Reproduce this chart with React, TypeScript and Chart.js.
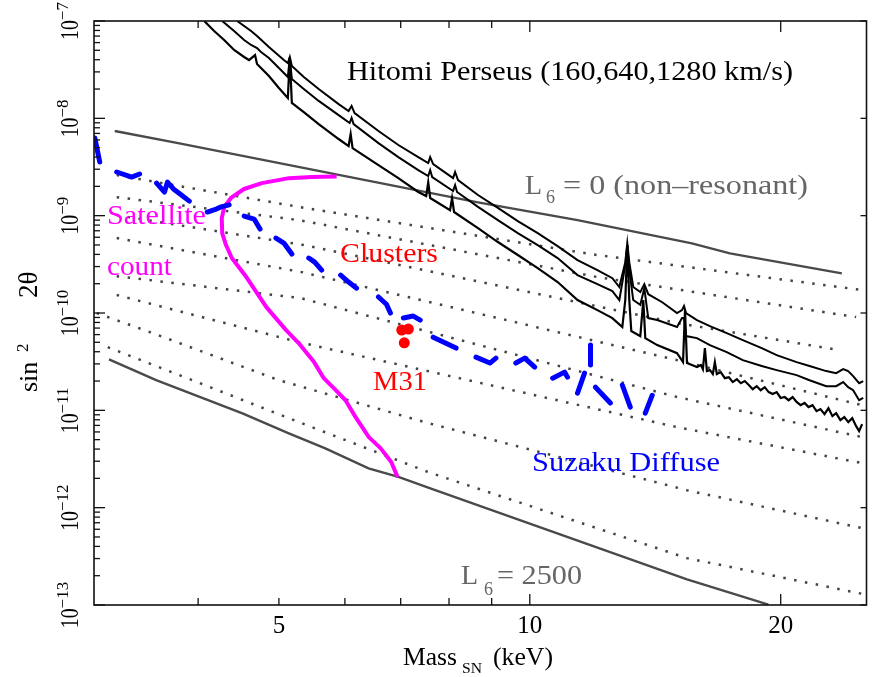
import React, { useEffect, useRef } from 'react';
import { Chart, registerables } from 'chart.js';

Chart.register(...registerables);

const FONT = '"Liberation Serif", "Times New Roman", serif';

const X_MIN = 3;
const X_MAX = 25.35;
const Y_MIN = 1e-13;
const Y_MAX = 1e-7;

// x tick marks / labels
const xTickValues = [4, 5, 6, 7, 8, 9, 10, 20];
const xMajorTicks = [10, 20];
const xTickLabels = [5, 10, 20];
const yDecades = [-13, -12, -11, -10, -9, -8, -7];

// Hitomi Perseus limits: 1280, 640, 160 km/s
const hitomi1280Mass = [4.455, 4.63, 4.707, 4.864, 5.069, 5.125, 5.153, 5.182, 5.356, 5.581, 5.897, 6.062, 6.112, 6.163, 6.583, 6.955, 7.348, 7.553, 7.594, 7.657, 8.09, 8.135, 8.202, 8.666, 9.156, 9.674, 10.221, 10.799, 11.409, 12.054, 12.562, 12.806, 13.019, 13.091, 13.163, 13.308, 13.57, 13.721, 13.872, 14.418, 15.02, 15.228, 15.312, 15.396, 15.868, 16.446, 17.231, 18.012, 18.979, 19.78, 20.898, 21.657, 22.683, 23.311, 23.768, 24.097, 24.431, 24.838, 25.12];
const hitomi1280Sin = [1.0e-7, 7.89e-8, 7.01e-8, 5.4e-8, 3.97e-8, 3.7e-8, 4.27e-8, 3.45e-8, 2.66e-8, 2.0e-8, 1.4e-8, 1.19e-8, 1.34e-8, 1.13e-8, 7.41e-9, 5.32e-9, 4.0e-9, 3.47e-9, 4.0e-9, 3.39e-9, 2.43e-9, 2.81e-9, 2.32e-9, 1.63e-9, 1.2e-9, 8.8e-10, 6.63e-10, 4.87e-10, 3.5e-10, 2.76e-10, 2.28e-10, 1.85e-10, 3.33e-10, 5.23e-10, 3.33e-10, 1.85e-10, 1.64e-10, 1.98e-10, 1.56e-10, 1.29e-10, 9.98e-11, 1.07e-10, 1.18e-10, 9.98e-11, 8.46e-11, 7.34e-11, 6.22e-11, 5.27e-11, 4.36e-11, 3.69e-11, 3.13e-11, 2.85e-11, 2.53e-11, 2.41e-11, 2.65e-11, 2.53e-11, 2.25e-11, 1.9e-11, 2.0e-11];

const hitomi640Mass = [4.275, 4.418, 4.542, 4.63, 4.707, 4.759, 4.864, 5.0, 5.125, 5.153, 5.182, 5.356, 5.581, 5.897, 6.079, 6.112, 6.146, 6.583, 6.955, 7.348, 7.553, 7.594, 7.636, 8.09, 8.135, 8.179, 8.666, 9.156, 9.674, 10.221, 10.799, 11.409, 12.054, 12.562, 12.806, 13.019, 13.091, 13.163, 13.308, 13.57, 13.721, 13.872, 14.22, 15.02, 15.228, 15.312, 15.396, 15.868, 16.446, 17.231, 18.012, 18.979, 19.78, 20.898, 21.657, 22.683, 23.311, 23.768, 24.097, 24.431, 24.838, 25.12];
const hitomi640Sin = [1.0e-7, 7.89e-8, 6.38e-8, 5.67e-8, 5.28e-8, 4.8e-8, 4.17e-8, 3.29e-8, 2.66e-8, 4.17e-8, 2.53e-8, 2.0e-8, 1.51e-8, 1.08e-8, 8.95e-9, 1.01e-8, 8.74e-9, 5.57e-9, 4.0e-9, 2.94e-9, 2.55e-9, 2.94e-9, 2.49e-9, 1.79e-9, 2.06e-9, 1.75e-9, 1.23e-9, 9.01e-10, 6.63e-10, 4.99e-10, 3.67e-10, 2.45e-10, 1.98e-10, 1.68e-10, 1.36e-10, 3.11e-10, 4.99e-10, 2.76e-10, 1.36e-10, 1.21e-10, 1.8e-10, 8.87e-11, 8.46e-11, 7.17e-11, 8.87e-11, 8.87e-11, 5.79e-11, 5.52e-11, 4.68e-11, 3.96e-11, 3.28e-11, 2.85e-11, 2.59e-11, 2.3e-11, 2.04e-11, 1.77e-11, 1.77e-11, 1.95e-11, 1.73e-11, 1.61e-11, 1.27e-11, 1.34e-11];

const hitomi160Mass = [4.068, 4.181, 4.298, 4.418, 4.542, 4.604, 4.681, 4.707, 4.759, 4.864, 5.0, 5.125, 5.153, 5.182, 5.356, 5.581, 5.897, 6.062, 6.096, 6.129, 6.583, 6.955, 7.348, 7.511, 7.553, 7.594, 8.023, 8.067, 8.112, 8.666, 9.156, 9.674, 10.221, 10.799, 11.409, 12.054, 12.562, 12.912, 13.019, 13.091, 13.163, 13.236, 13.57, 13.683, 13.758, 14.22, 15.02, 15.27, 15.354, 15.438, 15.868, 16.044, 16.132, 16.221, 16.311, 16.446, 16.582, 16.674, 16.765, 16.946, 17.14, 17.33, 17.521, 17.718, 17.913, 18.111, 18.312, 18.514, 18.719, 18.927, 19.136, 19.348, 19.562, 19.78, 19.998, 20.219, 20.443, 20.669, 20.898, 21.129, 21.363, 21.599, 21.838, 22.08, 22.324, 22.571, 22.821, 23.073, 23.311, 23.585, 23.843, 24.106, 24.372, 24.634, 24.838, 25.044];
const hitomi160Sin = [1.0e-7, 7.89e-8, 6.38e-8, 5.04e-8, 4.27e-8, 3.97e-8, 4.47e-8, 3.61e-8, 3.29e-8, 2.72e-8, 2.05e-8, 1.62e-8, 4.27e-8, 1.44e-8, 1.16e-8, 8.74e-9, 6.13e-9, 5.19e-9, 6.9e-9, 4.95e-9, 3.31e-9, 2.43e-9, 1.75e-9, 1.59e-9, 2.21e-9, 1.52e-9, 1.14e-9, 1.52e-9, 1.09e-9, 7.46e-10, 5.36e-10, 3.94e-10, 2.89e-10, 2.08e-10, 1.36e-10, 1.07e-10, 8.87e-11, 7.17e-11, 1.36e-10, 4.99e-10, 1.36e-10, 6.52e-11, 5.79e-11, 1.36e-10, 5.52e-11, 4.68e-11, 3.87e-11, 3.13e-11, 1.07e-10, 3.06e-11, 2.78e-11, 2.92e-11, 2.65e-11, 4.36e-11, 2.53e-11, 2.59e-11, 2.36e-11, 3.13e-11, 2.36e-11, 2.47e-11, 2.14e-11, 2.19e-11, 1.95e-11, 2.09e-11, 1.9e-11, 2.0e-11, 1.82e-11, 1.65e-11, 1.77e-11, 1.61e-11, 1.73e-11, 1.54e-11, 1.47e-11, 1.54e-11, 1.34e-11, 1.37e-11, 1.27e-11, 1.37e-11, 1.22e-11, 1.13e-11, 1.19e-11, 1.08e-11, 1.13e-11, 9.81e-12, 1.03e-11, 9.14e-12, 1.05e-11, 8.72e-12, 9.36e-12, 7.93e-12, 8.52e-12, 7.57e-12, 8.32e-12, 6.88e-12, 6.11e-12, 7.22e-12];

// Non-resonant (L6 = 0) and L6 = 2500 lines
const nonResMass = [3.177, 3.798, 8.666, 11.409, 15.65, 17.38, 23.68];
const nonResSin = [7.41e-9, 5.53e-9, 1.37e-9, 9.01e-10, 5.19e-10, 4.1e-10, 2.55e-10];
const l2500Mass = [3.127, 3.562, 4.521, 5.139, 5.684, 6.405, 6.955, 7.553, 15.438, 19.33];
const l2500Sin = [3.34e-11, 2.04e-11, 9.3e-12, 5.79e-12, 4.06e-12, 2.53e-12, 2.07e-12, 1.61e-12, 1.83e-13, 1.01e-13];

// Intermediate lepton-asymmetry lines (dotted)
const dotted0Mass = [3.194, 5.283, 12.054, 25.04];
const dotted0Sin = [2.61e-9, 1.23e-9, 3.94e-10, 1.72e-10];
const dotted1Mass = [3.194, 5.283, 12.054, 24.634];
const dotted1Sin = [1.55e-9, 9.01e-10, 2.34e-10, 9.08e-11];
const dotted2Mass = [3.194, 5.356, 15.02, 23.51];
const dotted2Sin = [1.01e-9, 4.99e-10, 7.88e-11, 4.16e-11];
const dotted3Mass = [3.194, 5.327, 15.02, 25.04];
const dotted3Sin = [5.89e-10, 2.63e-10, 3.28e-11, 1.13e-11];
const dotted4Mass = [3.194, 5.312, 15.02, 25.04];
const dotted4Sin = [2.39e-10, 1.42e-10, 1.37e-11, 5.31e-12];
const dotted5Mass = [3.194, 5.283, 15.02, 25.04];
const dotted5Sin = [1.53e-10, 5.02e-11, 6.72e-12, 2.87e-12];
const dotted6Mass = [3.023, 3.5, 5.0, 7.553, 15.438, 25.04];
const dotted6Sin = [9.98e-11, 6.37e-11, 2.04e-11, 7.39e-12, 1.51e-12, 6.16e-13];
const dotted7Mass = [3.116, 3.936, 5.283, 7.553, 15.438, 25.19];
const dotted7Sin = [4.46e-11, 2.04e-11, 7.57e-12, 2.32e-12, 3.03e-13, 1.29e-13];

// Satellite count
const satMass = [5.865, 5.475, 5.14, 4.77, 4.54, 4.38, 4.3, 4.27, 4.275, 4.32, 4.39, 4.57, 4.83, 5.1, 5.28, 5.51, 5.66, 5.85, 6.01, 6.18, 6.41, 6.62, 6.82, 6.94];
const satSin = [2.52e-9, 2.49e-9, 2.43e-9, 2.16e-9, 1.88e-9, 1.52e-9, 1.23e-9, 9.44e-10, 6.62e-10, 4.99e-10, 3.67e-10, 2.34e-10, 1.15e-10, 6.67e-11, 4.91e-11, 3.13e-11, 2.14e-11, 1.61e-11, 1.27e-11, 8.51e-12, 5.31e-12, 4.09e-12, 2.94e-12, 2.06e-12];

// Suzaku diffuse (drawn dashes; null separates dashes)
const suzakuMass = [3.007, 3.048, 3.048, 3.194, 3.329, 3.403, 3.403, 3.566, 3.645, 3.675, 3.736, 3.819, 3.904, 3.904, 4.102, 4.205, 4.263, 4.358, 4.358, 4.542, 4.669, 4.746, 4.746, 4.959, 5.069, 5.182, 5.182, 5.43, 5.52, 5.627, 5.627, 5.93, 6.062, 6.197, 6.197, 6.583, 6.73, 6.804, 6.804, 7.052, 7.248, 7.389, 7.389, 7.657, 8.157, 8.157, 8.618, 8.957, 9.106, 9.106, 9.621, 9.862, 10.137, 10.137, 10.652, 11.008, 11.099, 11.099, 11.826, 11.826, 11.826, 11.632, 11.409, 11.409, 11.99, 12.493, 12.493, 12.912, 13.2, 13.2, 14.025, 13.758];
const suzakuSin = [6.27e-9, 3.56e-9, null, 2.81e-9, 2.49e-9, 2.68e-9, null, 2.16e-9, 1.75e-9, 2.21e-9, 1.88e-9, 1.63e-9, 1.41e-9, null, 1.09e-9, 1.17e-9, 1.23e-9, 1.29e-9, null, 9.91e-10, 9.23e-10, 7.28e-10, null, 5.89e-10, 5.23e-10, 4.03e-10, null, 3.67e-10, 3.33e-10, 2.76e-10, null, 2.45e-10, 2.08e-10, 1.8e-10, null, 1.46e-10, 1.23e-10, 9.98e-11, null, 8.87e-11, 9.3e-11, 8.46e-11, null, 5.65e-11, 4.36e-11, null, 3.52e-11, 3.06e-11, 3.44e-11, null, 3.06e-11, 3.44e-11, 2.78e-11, null, 2.14e-11, 2.47e-11, 2.19e-11, null, 4.68e-11, 2.92e-11, null, 2.41e-11, 1.5e-11, null, 1.73e-11, 1.19e-11, null, 1.82e-11, 1.08e-11, null, 1.43e-11, 9.36e-12];

// M31
const m31Mass = [7.02, 7.15, 7.07];
const m31Sin = [6.67e-11, 6.84e-11, 4.94e-11];

const pts = (mass: number[], sin: (number | null)[]) =>
  mass.map((m, i) => ({ x: m, y: sin[i] }));

function fitText(ctx: CanvasRenderingContext2D, text: string, x: number, y: number, size: number, color: string, width?: number) {
  ctx.font = `${size}px ${FONT}`;
  ctx.fillStyle = color;
  ctx.textAlign = 'left';
  ctx.textBaseline = 'alphabetic';
  if (width) {
    const w = ctx.measureText(text).width;
    ctx.save();
    ctx.translate(x, y);
    ctx.scale(width / w, 1);
    ctx.fillText(text, 0, 0);
    ctx.restore();
  } else {
    ctx.fillText(text, x, y);
  }
}

const framePlugin = {
  id: 'frame',
  afterDatasetsDraw(chart: any) {
    const { ctx, chartArea } = chart;
    const { left, right, top, bottom } = chartArea;
    const xs = chart.scales.x;
    const ys = chart.scales.y;
    ctx.save();
    ctx.strokeStyle = '#111';
    ctx.lineWidth = 1.6;
    ctx.strokeRect(left, top, right - left, bottom - top);

    const seg = (x1: number, y1: number, x2: number, y2: number) => {
      ctx.beginPath();
      ctx.moveTo(x1, y1);
      ctx.lineTo(x2, y2);
      ctx.stroke();
    };
    ctx.lineWidth = 1.3;
    yDecades.forEach((e) => {
      for (let m = 1; m < 10; m++) {
        const v = m * Math.pow(10, e);
        if (v > Y_MAX * 1.001) break;
        const py = ys.getPixelForValue(v);
        if (m === 1) {
          seg(left, py, left + 11, py);
          seg(right, py, right - 6, py);
        } else {
          seg(left, py, left + 6, py);
        }
      }
    });
    xTickValues.forEach((v) => {
      const px = xs.getPixelForValue(v);
      const len = xMajorTicks.includes(v) ? 11 : 7;
      seg(px, bottom, px, bottom - len);
      seg(px, top, px, top + len);
    });

    ctx.fillStyle = '#000';
    ctx.font = `25px ${FONT}`;
    ctx.textAlign = 'center';
    ctx.textBaseline = 'alphabetic';
    xTickLabels.forEach((v) => {
      ctx.fillText(String(v), xs.getPixelForValue(v), 633);
    });

    yDecades.forEach((e) => {
      const py = ys.getPixelForValue(Math.pow(10, e));
      ctx.save();
      ctx.translate(78, py);
      ctx.rotate(-Math.PI / 2);
      ctx.fillStyle = '#000';
      ctx.textAlign = 'left';
      ctx.font = `26px ${FONT}`;
      const sx = 0.76;
      const w1 = ctx.measureText('10').width * sx;
      ctx.font = `17px ${FONT}`;
      const expText = '\u2212' + String(Math.abs(e));
      const w2 = ctx.measureText(expText).width;
      const start = -(w1 + w2) / 2;
      ctx.save();
      ctx.translate(start, 0);
      ctx.scale(sx, 1);
      ctx.font = `26px ${FONT}`;
      ctx.fillText('10', 0, 0);
      ctx.restore();
      ctx.font = `17px ${FONT}`;
      ctx.fillText(expText, start + w1, -10);
      ctx.restore();
    });

    fitText(ctx, 'Mass', 403, 665, 25, '#000', 54);
    fitText(ctx, 'SN', 462, 673, 14, '#000', 20);
    fitText(ctx, '(keV)', 493, 665, 25, '#000', 60);

    ctx.save();
    ctx.translate(37, 392);
    ctx.rotate(-Math.PI / 2);
    fitText(ctx, 'sin', 0, 0, 26, '#000');
    fitText(ctx, '2', 40, -9, 17, '#000');
    fitText(ctx, '2\u03b8', 94, 0, 27, '#000');
    ctx.restore();

    fitText(ctx, 'Hitomi Perseus (160,640,1280 km/s)', 347, 80, 28, '#000', 446);
    fitText(ctx, 'L', 525, 194, 28, '#666');
    fitText(ctx, '6', 546, 203, 18, '#666');
    fitText(ctx, '= 0 (non\u2013resonant)', 563, 194, 28, '#666', 245);
    fitText(ctx, 'L', 461, 584, 28, '#666');
    fitText(ctx, '6', 484, 595, 18, '#666');
    fitText(ctx, '= 2500', 497, 584, 28, '#666', 85);
    fitText(ctx, 'Satellite', 107, 224, 28, '#ff00ff', 99);
    fitText(ctx, 'count', 107, 275, 28, '#ff00ff', 65);
    fitText(ctx, 'Clusters', 340, 262, 28, '#ff0000', 98);
    fitText(ctx, 'M31', 373, 390, 28, '#ff0000', 54);
    fitText(ctx, 'Suzaku Diffuse', 532, 471, 28, '#0000ff', 188);
    ctx.restore();
  },
};

export default function App() {
  const ref = useRef<HTMLCanvasElement | null>(null);
  useEffect(() => {
    if (!ref.current) return;
    const dotted = (mass: number[], sin: number[]) => ({
      data: pts(mass, sin),
      borderColor: '#444',
      borderWidth: 2.5,
      borderDash: [2.5, 8.5],
      pointRadius: 0,
      fill: false,
    });
    const chart = new Chart(ref.current, {
      type: 'line',
      data: {
        datasets: [
          {
            data: pts(m31Mass, m31Sin),
            showLine: false,
            pointRadius: 5.5,
            pointBackgroundColor: '#ff0000',
            pointBorderWidth: 0,
            borderColor: '#ff0000',
          },
          {
            data: pts(suzakuMass, suzakuSin),
            borderColor: '#0000ff',
            borderWidth: 5,
            borderCapStyle: 'round',
            borderJoinStyle: 'round',
            pointRadius: 0,
            spanGaps: false,
          },
          {
            data: pts(satMass, satSin),
            borderColor: '#ff00ff',
            borderWidth: 4,
            borderJoinStyle: 'round',
            pointRadius: 0,
          },
          { data: pts(hitomi160Mass, hitomi160Sin), borderColor: '#000', borderWidth: 2.2, pointRadius: 0 },
          { data: pts(hitomi640Mass, hitomi640Sin), borderColor: '#000', borderWidth: 2, pointRadius: 0 },
          { data: pts(hitomi1280Mass, hitomi1280Sin), borderColor: '#000', borderWidth: 2, pointRadius: 0 },
          { data: pts(nonResMass, nonResSin), borderColor: '#4a4a4a', borderWidth: 2.4, pointRadius: 0 },
          { data: pts(l2500Mass, l2500Sin), borderColor: '#4a4a4a', borderWidth: 2.4, pointRadius: 0 },
          dotted(dotted0Mass, dotted0Sin),
          dotted(dotted1Mass, dotted1Sin),
          dotted(dotted2Mass, dotted2Sin),
          dotted(dotted3Mass, dotted3Sin),
          dotted(dotted4Mass, dotted4Sin),
          dotted(dotted5Mass, dotted5Sin),
          dotted(dotted6Mass, dotted6Sin),
          dotted(dotted7Mass, dotted7Sin),
        ] as any,
      },
      options: {
        animation: false,
        responsive: false,
        devicePixelRatio: 1,
        events: [],
        layout: { padding: { left: 94, right: 2, top: 21, bottom: 72 } },
        plugins: { legend: { display: false }, tooltip: { enabled: false } },
        elements: { line: { tension: 0 } },
        scales: {
          x: { type: 'logarithmic', min: X_MIN, max: X_MAX, display: false },
          y: { type: 'logarithmic', min: Y_MIN, max: Y_MAX, display: false },
        },
      } as any,
      plugins: [framePlugin],
    });
    return () => chart.destroy();
  }, []);
  return (
    <div style={{ position: 'absolute', left: 0, top: 0, width: 872, height: 677, background: '#fff' }}>
      <canvas ref={ref} width={872} height={677} style={{ display: 'block', width: 872, height: 677 }} />
    </div>
  );
}
